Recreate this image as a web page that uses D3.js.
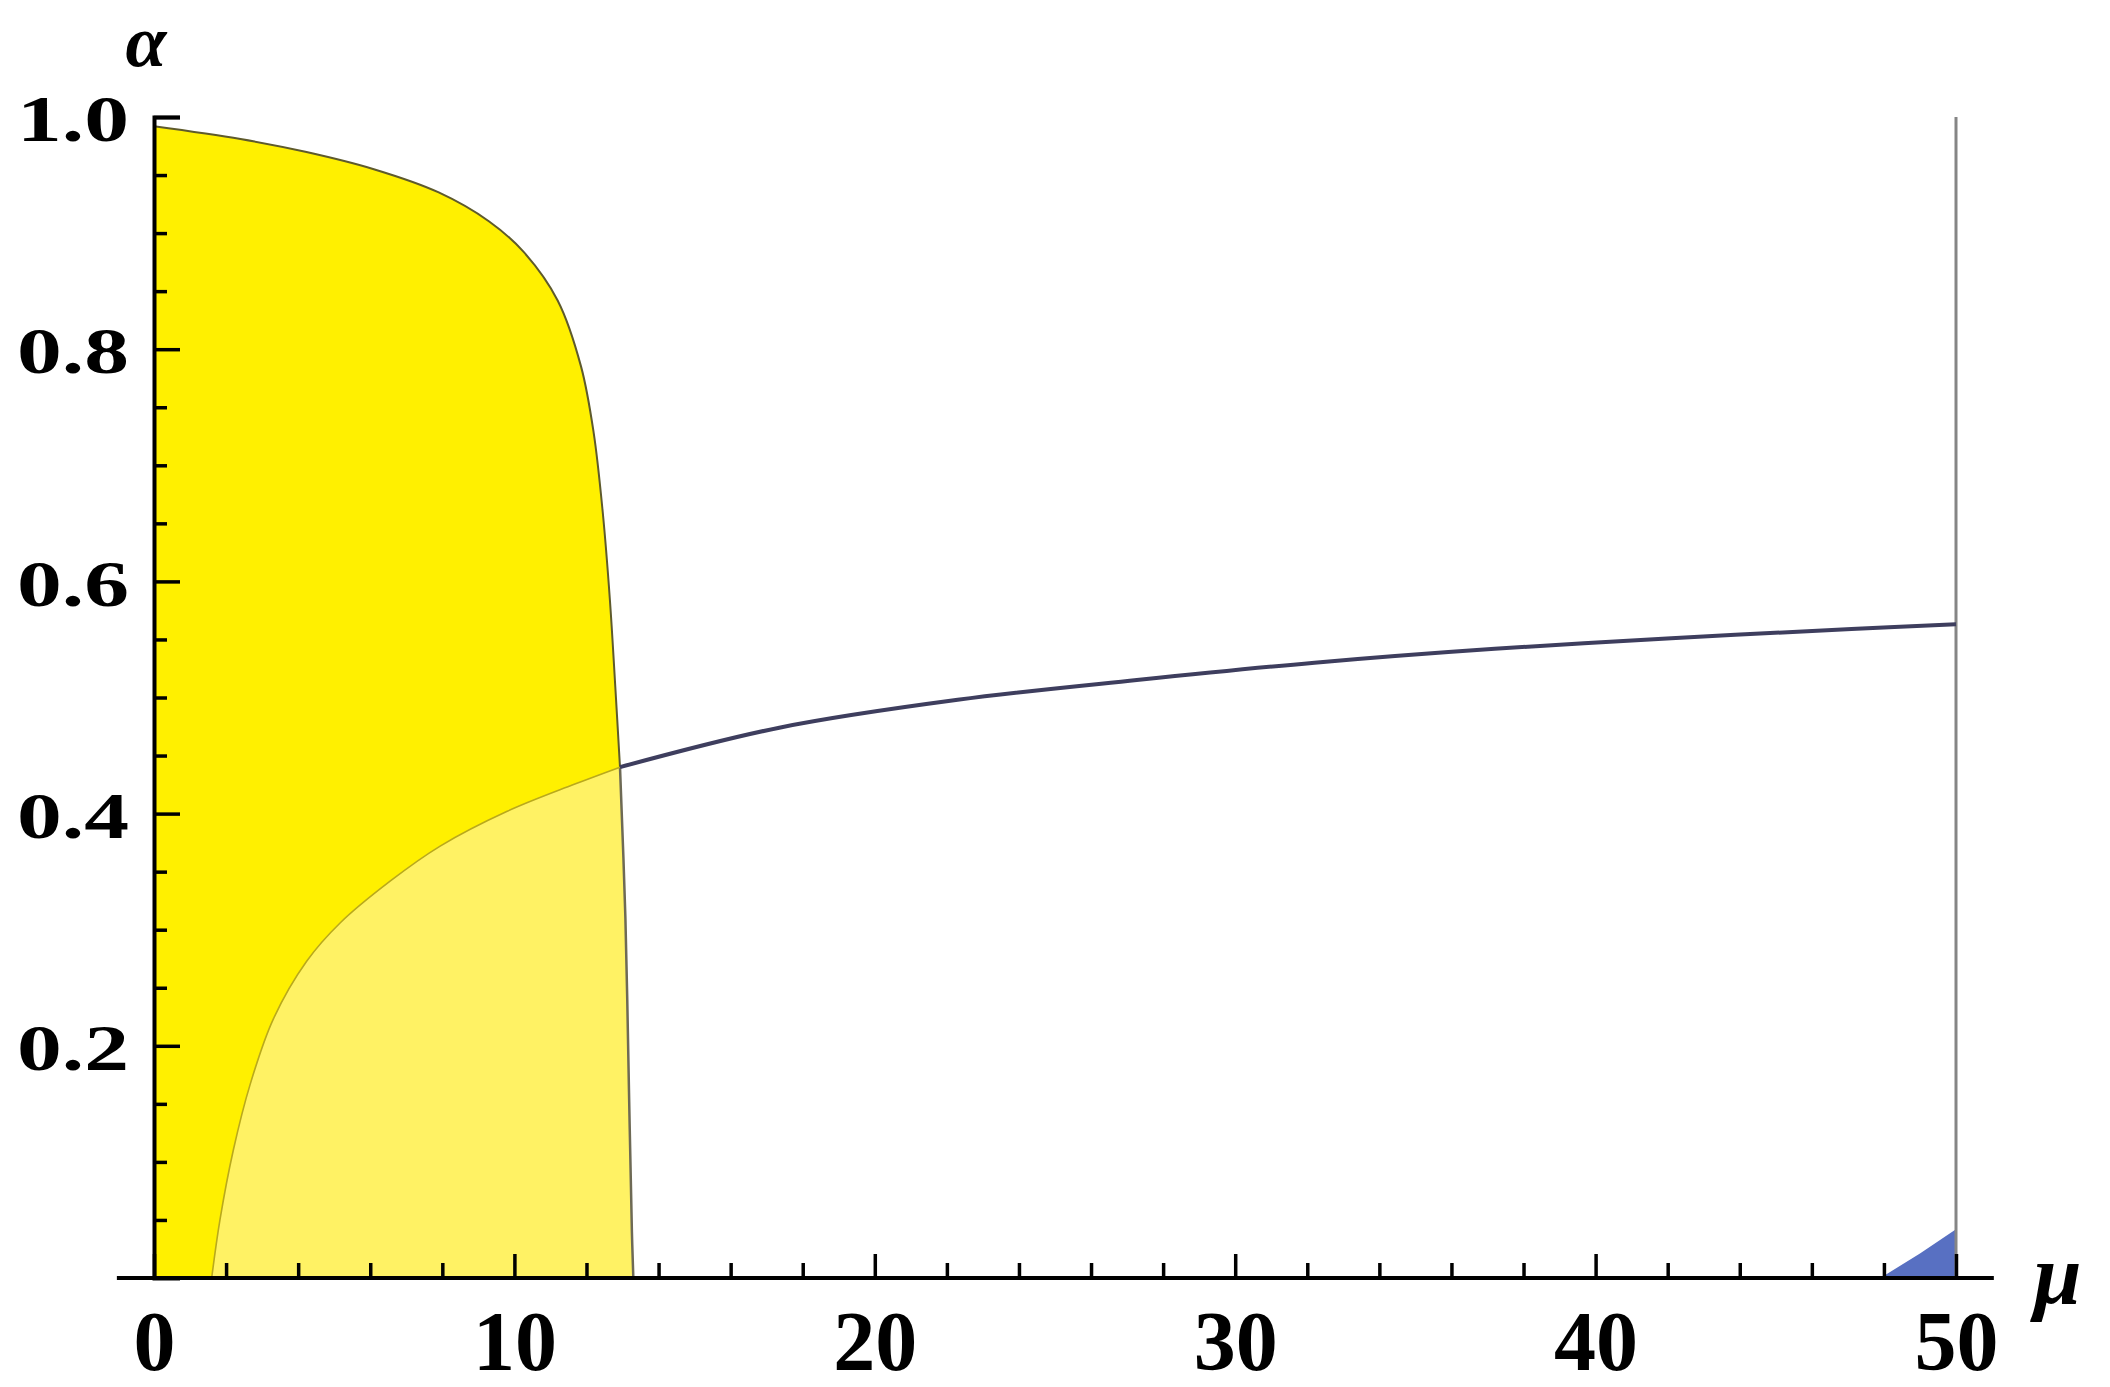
<!DOCTYPE html>
<html>
<head>
<meta charset="utf-8">
<script src="https://cdn.jsdelivr.net/npm/d3@7"></script>
<style>
html,body{margin:0;padding:0;background:#fff;}
svg{display:block;}
</style>
</head>
<body>
<svg id="chart" width="2110" height="1387"></svg>
<script>
// ---- data ----
const muTop    = [0, 2.4, 4.2, 6.1, 7.9, 9.3, 10.25, 11.2, 11.85, 12.2, 12.45, 12.65, 12.8, 12.93, 13.08, 13.18, 13.26, 13.3];
const alphaTop = [0.992, 0.981, 0.970, 0.955, 0.935, 0.910, 0.884, 0.842, 0.785, 0.728, 0.66, 0.584, 0.509, 0.44, 0.31, 0.16, 0.04, 0];

const muLow    = [1.6, 1.83, 2.2, 2.67, 3.31, 4.24, 5.17, 6.56, 7.94, 9.8, 11.64, 12.93];
const alphaLow = [0, 0.050, 0.110, 0.167, 0.223, 0.273, 0.306, 0.342, 0.372, 0.402, 0.425, 0.44];

const muBlue    = [12.93, 17.35, 22.3, 27.27, 32.2, 37.2, 42.1, 47.1, 50];
const alphaBlue = [0.44, 0.474, 0.498, 0.515, 0.530, 0.542, 0.551, 0.559, 0.563];

const muTri    = [47.9, 49.0, 50, 50];
const alphaTri = [0, 0.021, 0.042, 0];

const muEdge = [50, 50];
const alphaEdge = [0, 1.0];

const xMajorTicks = [0, 10, 20, 30, 40, 50];
const xMinorTicks = [2,4,6,8,12,14,16,18,22,24,26,28,32,34,36,38,42,44,46,48];
const yMajorTicks = [0.2, 0.4, 0.6, 0.8, 1.0];
const yMinorTicks = [0.05,0.1,0.15,0.25,0.3,0.35,0.45,0.5,0.55,0.65,0.7,0.75,0.85,0.9,0.95];
const xAxisExtent = [-1.03, 51.05];
const xLabel = "μ";
const yLabel = "α";

// ---- scales ----
const x = d3.scaleLinear().domain([0, 50]).range([154, 1956]);
const y = d3.scaleLinear().domain([0, 1]).range([1278, 117]);

const svg = d3.select("#chart");
const pts = (ms, as) => ms.map((m, i) => [m, as[i]]);
const curveLine = d3.line().x(d => x(d[0])).y(d => y(d[1])).curve(d3.curveCatmullRom.alpha(0.5));
const linLine = d3.line().x(d => x(d[0])).y(d => y(d[1]));

const topPts = pts(muTop, alphaTop);
const lowPts = pts(muLow, alphaLow);
const junction = alphaLow[alphaLow.length - 1];
const headPts = topPts.filter(d => d[1] >= junction);
const tailPts = topPts.filter(d => d[1] <= junction);

// bright yellow region
svg.append("path")
  .attr("d", curveLine(topPts) + "L" + x(0) + "," + y(0) + "Z")
  .attr("fill", "#FFF000");

// pale yellow region
svg.append("path")
  .attr("d", curveLine(lowPts) + curveLine(tailPts).replace(/^M/, "L") + "Z")
  .attr("fill", "#FFF264");

// blue region
svg.append("path")
  .attr("d", linLine(pts(muTri, alphaTri)) + "Z")
  .attr("fill", "#5870C2");

// boundaries
svg.append("path").attr("d", curveLine(headPts))
  .attr("fill", "none").attr("stroke", "#5e5a2c").attr("stroke-width", 2);
svg.append("path").attr("d", curveLine(tailPts))
  .attr("fill", "none").attr("stroke", "#6e6a55").attr("stroke-width", 2.5);
svg.append("path").attr("d", curveLine(lowPts))
  .attr("fill", "none").attr("stroke", "#b9a91c").attr("stroke-width", 1.6);

// grey edge at mu = 50
svg.append("path").attr("d", linLine(pts(muEdge, alphaEdge)))
  .attr("fill", "none").attr("stroke", "#858585").attr("stroke-width", 3);

// blue curve
svg.append("path").attr("d", curveLine(pts(muBlue, alphaBlue)))
  .attr("fill", "none").attr("stroke", "#3e3e5e").attr("stroke-width", 4);

// ---- axes ----
svg.append("line")
  .attr("x1", x(xAxisExtent[0])).attr("x2", x(xAxisExtent[1]))
  .attr("y1", y(0)).attr("y2", y(0))
  .attr("stroke", "#000").attr("stroke-width", 4);

const gxMinor = svg.append("g").attr("transform", `translate(0,${y(0)})`)
  .call(d3.axisBottom(x).tickValues(xMinorTicks).tickSize(-15).tickFormat(""));
gxMinor.select(".domain").remove();
gxMinor.selectAll("line").attr("stroke", "#000").attr("stroke-width", 3.5);

const gx = svg.append("g").attr("transform", `translate(0,${y(0)})`)
  .call(d3.axisBottom(x).tickValues(xMajorTicks).tickSizeInner(-24).tickSizeOuter(0).tickPadding(32).tickFormat(d3.format("d")));
gx.select(".domain").remove();
gx.selectAll("line").attr("stroke", "#000").attr("stroke-width", 3.5);
gx.selectAll("text")
  .attr("fill", "#000")
  .style("font-family", "'Liberation Serif', 'DejaVu Serif', serif")
  .style("font-weight", "bold")
  .style("font-size", "84px");

const gyMinor = svg.append("g").attr("transform", `translate(${x(0)},0)`)
  .call(d3.axisLeft(y).tickValues(yMinorTicks).tickSize(-13).tickFormat(""));
gyMinor.select(".domain").remove();
gyMinor.selectAll("line").attr("stroke", "#000").attr("stroke-width", 3.5);

const gy = svg.append("g").attr("transform", `translate(${x(0)},0)`)
  .call(d3.axisLeft(y).tickValues(yMajorTicks).tickSizeInner(-26).tickSizeOuter(-26).tickPadding(25).tickFormat(d3.format(".1f")));
gy.select(".domain").attr("stroke", "#000").attr("stroke-width", 4);
gy.selectAll("line").attr("stroke", "#000").attr("stroke-width", 3.5);
gy.selectAll("text")
  .attr("fill", "#000")
  .attr("dy", "0.36em")
  .attr("textLength", 112)
  .attr("lengthAdjust", "spacingAndGlyphs")
  .style("font-family", "'Liberation Serif', 'DejaVu Serif', serif")
  .style("font-weight", "bold")
  .style("font-size", "66px");

// axis titles
svg.append("text")
  .attr("x", x(0) - 8).attr("y", 66)
  .attr("text-anchor", "middle")
  .style("font-family", "'Liberation Serif', 'DejaVu Serif', serif")
  .style("font-style", "italic").style("font-weight", "bold")
  .style("font-size", "74px")
  .text(yLabel);

svg.append("text")
  .attr("x", x(xAxisExtent[1]) + 40).attr("y", 1303)
  .attr("text-anchor", "start")
  .style("font-family", "'Liberation Serif', 'DejaVu Serif', serif")
  .style("font-style", "italic").style("font-weight", "bold")
  .style("font-size", "86px")
  .text(xLabel);
</script>
</body>
</html>
